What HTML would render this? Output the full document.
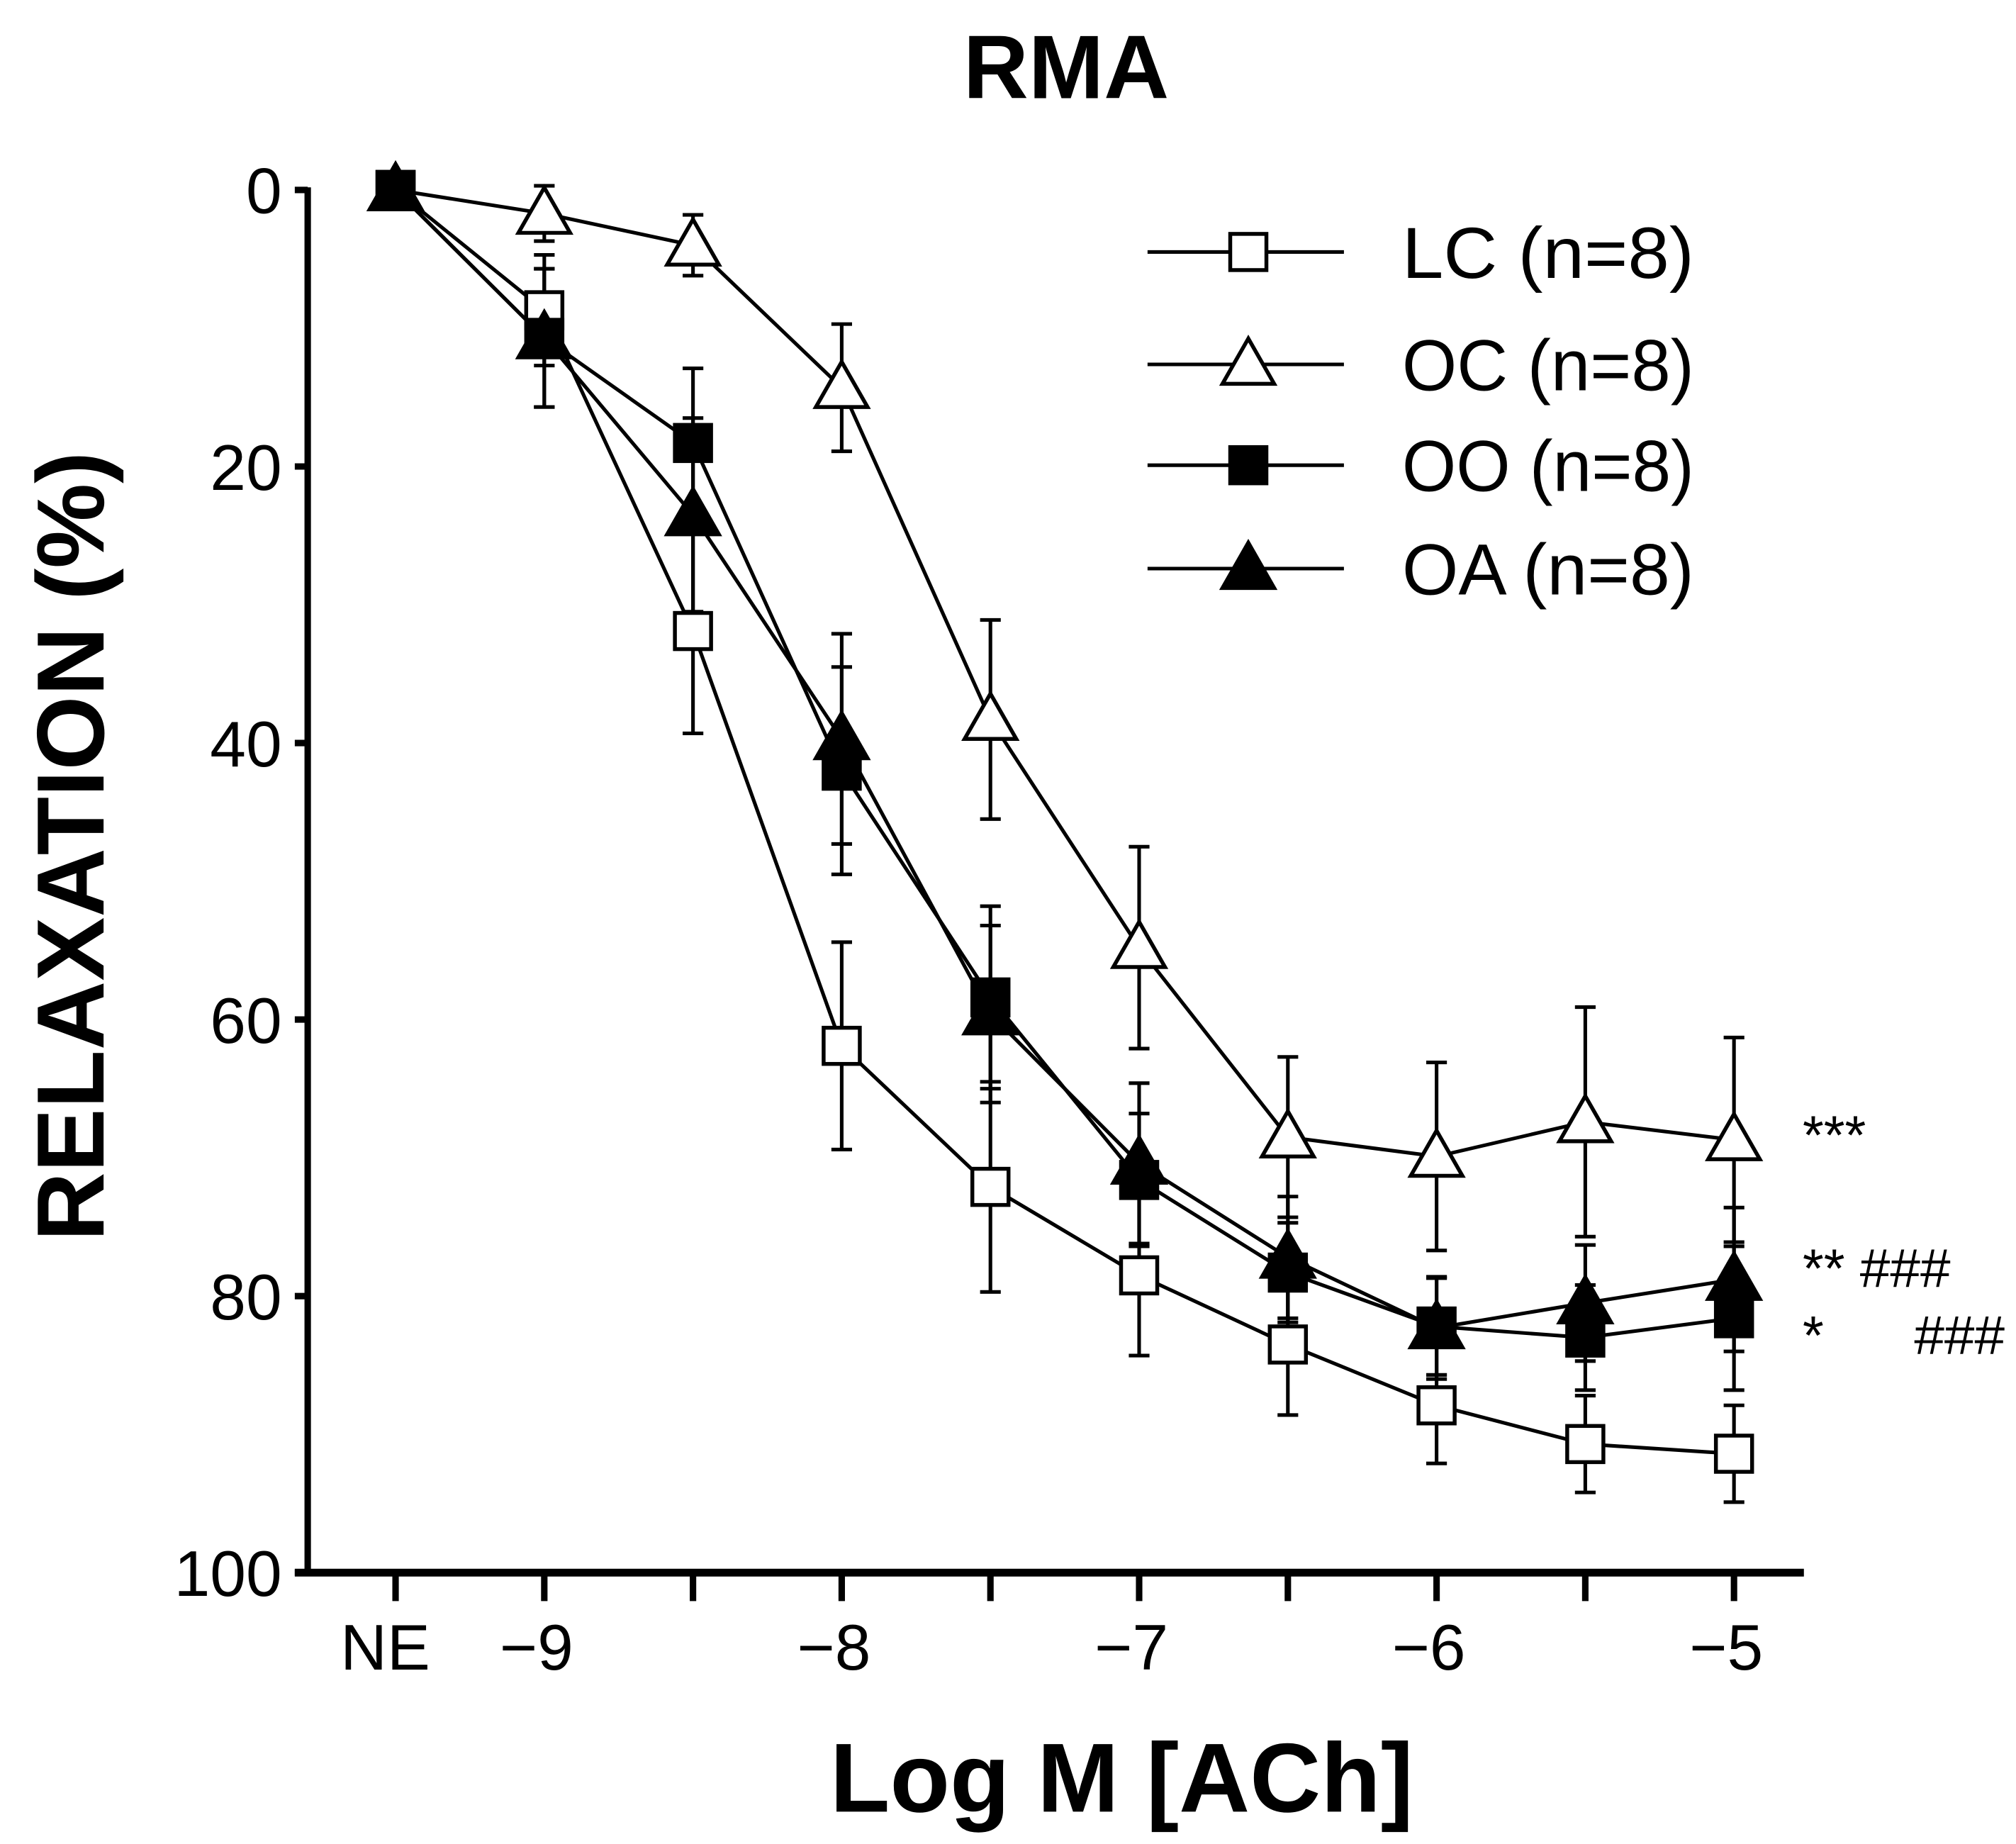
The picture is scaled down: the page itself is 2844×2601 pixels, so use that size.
<!DOCTYPE html>
<html><head><meta charset="utf-8"><style>html,body{margin:0;padding:0;background:#fff}svg{display:block}</style></head>
<body>
<svg id="chart" width="2844" height="2601" viewBox="0 0 1560 1427" xmlns="http://www.w3.org/2000/svg" font-family="'Liberation Sans', sans-serif">
<text x="825" y="76" font-size="70" font-weight="bold" text-anchor="middle">RMA</text>
<text transform="translate(80,655) rotate(-90)" font-size="74" font-weight="bold" text-anchor="middle">RELAXATION (%)</text>
<text x="868" y="1402" font-size="76" font-weight="bold" text-anchor="middle">Log M [ACh]</text>
<g id="axes"></g>
<g id="series"></g>
<g id="legend"></g>
<text x="1395" y="893" font-size="42">***</text>
<text x="1395" y="996" font-size="42">** ###</text>
<text x="1395" y="1048" font-size="42">*&#160;&#160;&#160;&#160;&#160;&#160;###</text>
</svg>
<script>
const xCats = ["NE","-9","-8.5","-8","-7.5","-7","-6.5","-6","-5.5","-5"];
const xTickLabels = ["NE","\u22129","","\u22128","","\u22127","","\u22126","","\u22125"];
const yTicks = [0,20,40,60,80,100];
const seriesNames = ["LC (n=8)","OC (n=8)","OO (n=8)","OA (n=8)"];
const lcVals = [0,8.7,31.9,61.9,72.1,78.5,83.5,87.9,90.7,91.4];
const lcErr = [0,4,7.4,7.5,7.6,5.8,5.1,4.2,3.5,3.5];
const ocVals = [0,1.7,4,14.3,38.3,54.8,68.5,69.9,67.4,68.7];
const ocErr = [0,2,2.2,4.6,7.2,7.3,5.8,6.8,8.3,7.4];
const ooVals = [0,10.7,18.3,42,58.4,71.6,78.3,82.2,83,81.6];
const ooErr = [0,5,5.4,7.5,6.6,4.8,3.6,3.5,3.8,5.2];
const oaVals = [0,10.7,23.5,39.7,59.6,70.4,77.2,82.3,80.5,78.8];
const oaErr = [0,5,7,7.6,6.4,5.8,4.4,3.7,4.2,5.2];

const NS="http://www.w3.org/2000/svg";
const X0=306, XSTEP=115.1, Y0=147, YS=10.7;
function xPos(i){return X0+i*XSTEP;}
function yPos(v){return Y0+v*YS;}
function mk(tag,attrs,parent){const e=document.createElementNS(NS,tag);for(const k in attrs)e.setAttribute(k,attrs[k]);parent.appendChild(e);return e;}
const axes=document.getElementById('axes');
let yl=mk('line',{x1:238,y1:yPos(0)-2,x2:238,y2:yPos(100),stroke:'#000','stroke-width':5},axes);


let xl=mk('line',{x1:228,y1:yPos(100),x2:1396,y2:yPos(100),stroke:'#000','stroke-width':6},axes);


yTicks.forEach(v=>{
  let t=mk('line',{x1:228,y1:yPos(v),x2:238,y2:yPos(v),stroke:'#000','stroke-width':5},axes);
  
  
  let l=mk('text',{x:218,y:yPos(v)+18,'font-size':50,'text-anchor':'end'},axes);l.textContent=v;
  
  
});
xCats.forEach((c,i)=>{
  let t=mk('line',{x1:xPos(i),y1:yPos(100),x2:xPos(i),y2:yPos(100)+22,stroke:'#000','stroke-width':5},axes);
  
  
  if(xTickLabels[i]){let l=mk('text',{x:xPos(i)-(i==0?8:6),y:1292,'font-size':50,'text-anchor':'middle'},axes);l.textContent=xTickLabels[i];
  
  }
});
function marker(parent,type,cx,cy){
  let e;
  if(type==='sq-open'||type==='sq-fill'){e=mk('rect',{x:cx-14,y:cy-14,width:28,height:28,fill:type==='sq-fill'?'#000':'#fff',stroke:'#000','stroke-width':3},parent);}
  else{e=mk('polygon',{points:`${cx},${cy-20} ${cx-20},${cy+15} ${cx+20},${cy+15}`,fill:type==='tri-fill'?'#000':'#fff',stroke:'#000','stroke-width':3},parent);}
  return e;
}
const ser=document.getElementById('series');
const defs=[[lcVals,lcErr,'sq-open','lc'],[ocVals,ocErr,'tri-open','oc'],[ooVals,ooErr,'sq-fill','oo'],[oaVals,oaErr,'tri-fill','oa']];
const lineG=mk('g',{},ser), errG=mk('g',{},ser), mG=mk('g',{},ser);
defs.forEach(([vals,errs,type,key])=>{
  let p=mk('polyline',{points:vals.map((v,i)=>xPos(i)+','+yPos(v)).join(' '),fill:'none',stroke:'#000','stroke-width':2.8},lineG);
  
  
  vals.forEach((v,i)=>{
    if(errs[i]>0){
      let eb=mk('path',{d:`M${xPos(i)},${yPos(v-errs[i])}V${yPos(v+errs[i])}M${xPos(i)-8},${yPos(v-errs[i])}h16M${xPos(i)-8},${yPos(v+errs[i])}h16`,stroke:'#000','stroke-width':2.8,fill:'none'},errG);
      
      
    }
    let m=marker(mG,type,xPos(i),yPos(v));
    
    
  });
});
const leg=document.getElementById('legend');
const legY=[195,282,360,440];
defs.forEach(([v,e,type,key],k)=>{
  let g=mk('g',{},leg);
  
  
  mk('line',{x1:888,y1:legY[k],x2:1040,y2:legY[k],stroke:'#000','stroke-width':2.8},g);
  marker(g,type,966,legY[k]);
  let t=mk('text',{x:1085,y:legY[k]+20,'font-size':56,'textLength':226,'lengthAdjust':'spacingAndGlyphs'},g);t.textContent=seriesNames[k];
});
</script>
</body></html>
